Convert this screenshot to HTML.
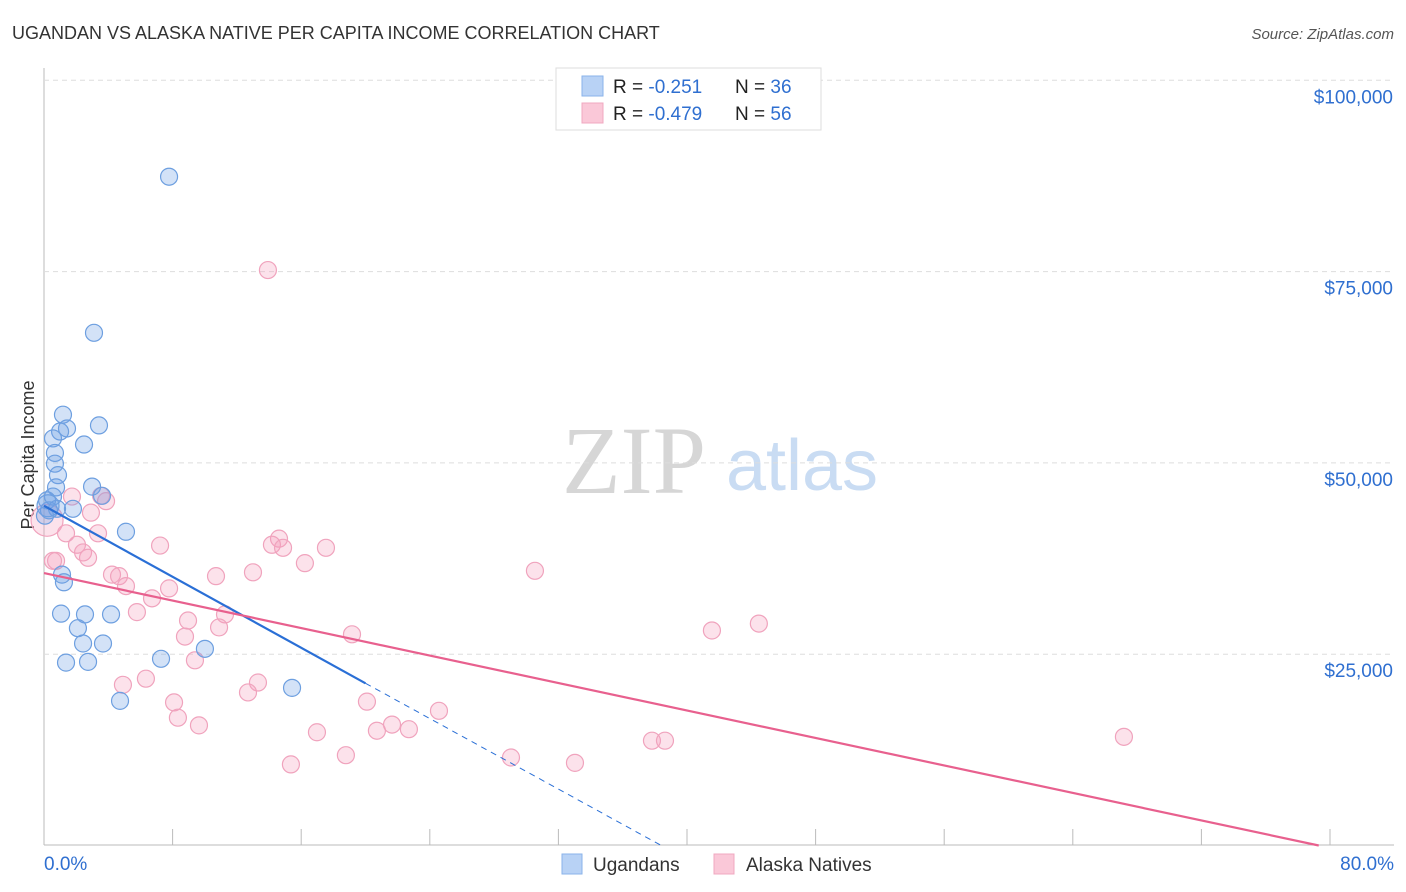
<!DOCTYPE html>
<html><head><meta charset="utf-8"><style>
body{margin:0;background:#fff;font-family:"Liberation Sans",sans-serif}
#c{position:relative;width:1406px;height:892px;overflow:hidden}
</style></head><body>
<div id="c">
<svg id="s" width="1406" height="892" xmlns="http://www.w3.org/2000/svg">
<text x="12" y="39" font-size="18" fill="#333">UGANDAN VS ALASKA NATIVE PER CAPITA INCOME CORRELATION CHART</text>
<text x="1394" y="39" font-size="15" fill="#555" font-style="italic" text-anchor="end">Source: ZipAtlas.com</text>
<text x="634" y="493" font-size="96" fill="#d6d6d6" font-family="Liberation Serif,serif" text-anchor="middle">ZIP</text>
<text x="802" y="490" font-size="72" fill="#c9dcf3" text-anchor="middle">atlas</text>
<text transform="translate(34,455) rotate(-90)" font-size="18" fill="#333" text-anchor="middle">Per Capita Income</text>
<g id="grid"></g><g id="pts"></g><g id="lines"></g>
<g>
<rect x="556" y="68" width="265" height="62" fill="#fff" stroke="#ddd"/>
<rect x="582" y="76" width="21" height="20" fill="#b8d2f5" stroke="#8ab3ea"/>
<rect x="582" y="103" width="21" height="20" fill="#fac8d8" stroke="#f0a8c0"/>
<text x="613" y="93" font-size="19" fill="#222">R = <tspan fill="#2f6fd0"> -0.251</tspan><tspan x="735">N = </tspan><tspan fill="#2f6fd0">36</tspan></text>
<text x="613" y="120" font-size="19" fill="#222">R = <tspan fill="#2f6fd0">-0.479</tspan><tspan x="735">N = </tspan><tspan fill="#2f6fd0">56</tspan></text>
</g>
<g>
<rect x="562" y="854" width="20" height="20" fill="#b8d2f5" stroke="#8ab3ea"/>
<text x="593" y="871" font-size="19" fill="#333">Ugandans</text>
<rect x="714" y="854" width="20" height="20" fill="#fac8d8" stroke="#f0a8c0"/>
<text x="746" y="871" font-size="19" fill="#333">Alaska Natives</text>
</g>
</svg></div>
<script>
const xTicks=[0,8,16,24,32,40,48,56,64,72,80];
const yTicks=[25,50,75,100];
const yTickLabels=["$25,000","$50,000","$75,000","$100,000"];
const ugX=[7.78,3.11,1.18,1.43,1.0,3.42,0.56,2.49,0.68,0.68,0.87,0.75,2.99,0.56,3.61,0.19,0.31,0.81,1.80,0.06,5.10,1.12,1.24,1.06,2.55,4.17,2.11,2.43,3.67,1.37,2.74,7.28,10.01,15.43,4.73,0.25];
const ugY=[87.4,67.0,56.3,54.5,54.1,54.9,53.2,52.4,51.3,49.9,48.4,46.8,46.9,45.6,45.7,45.1,43.8,44.0,44.0,43.1,41.0,35.4,34.4,30.3,30.2,30.2,28.4,26.4,26.4,23.9,24.0,24.4,25.7,20.6,18.9,44.4];
const akX=[13.93,0.19,3.55,1.74,3.86,2.92,3.36,1.37,2.05,2.43,7.22,0.75,2.74,4.23,4.67,5.10,10.70,13.0,7.78,6.72,5.78,8.96,11.26,10.89,8.77,14.62,14.18,14.87,17.54,16.23,30.54,19.16,41.55,44.47,9.39,4.91,6.34,13.31,12.69,8.09,20.09,8.33,9.64,21.65,20.71,22.70,24.57,16.98,18.78,15.36,29.05,33.03,37.82,38.63,67.18,0.56];
const akY=[75.2,42.5,45.7,45.6,45.0,43.5,40.8,40.8,39.3,38.3,39.2,37.2,37.6,35.4,35.2,33.9,35.2,35.7,33.6,32.3,30.5,29.4,30.2,28.5,27.3,40.1,39.3,38.9,38.9,36.9,35.9,27.6,28.1,29.0,24.2,21.0,21.8,21.3,20.0,18.7,18.8,16.7,15.7,15.8,15.0,15.2,17.6,14.8,11.8,10.6,11.5,10.8,13.7,13.7,14.2,37.2];
// trend line endpoints (percent, $k)
const ugTrend=[[0,44.4],[20,21.2],[38.4,0]];
const akTrend=[[0,35.6],[79.3,0]];
const NS="http://www.w3.org/2000/svg";
const sx=v=>44+v/80*1286, sy=v=>845.5-v/25*191.3;
function mk(t,a,p){const e=document.createElementNS(NS,t);for(const k in a)e.setAttribute(k,a[k]);p.appendChild(e);return e;}
const grid=document.getElementById('grid');
const ax=mk('line',{x1:44,y1:68,x2:44,y2:845,stroke:'#bbb'},grid);


const bx=mk('line',{x1:44,y1:845,x2:1394,y2:845,stroke:'#bbb'},grid);


yTicks.forEach((t,i)=>{
 const g=mk('line',{x1:44,x2:1394,y1:sy(t),y2:sy(t),stroke:'#ddd','stroke-dasharray':'5,4'},grid);
 
 
 const l=mk('text',{x:1393,y:sy(t)+23,'font-size':19,fill:'#2f6fd0','text-anchor':'end'},grid);
 l.textContent=yTickLabels[i];
 
 
});
xTicks.forEach(t=>{
 const k=mk('line',{x1:sx(t),x2:sx(t),y1:829,y2:845,stroke:'#bbb'},grid);
 
 
});
const xl=mk('text',{x:44,y:870,'font-size':19,fill:'#2f6fd0'},grid);xl.textContent='0.0%';


const xr=mk('text',{x:1394,y:870,'font-size':19,fill:'#2f6fd0','text-anchor':'end'},grid);xr.textContent='80.0%';


const pts=document.getElementById('pts');
akX.forEach((x,i)=>{
 const c=mk('circle',{cx:sx(x),cy:sy(akY[i]),r:i===1?16:8.5,fill:'rgba(244,160,190,0.3)',stroke:'#f0a3bd','stroke-width':1.2},pts);
 
 
});
ugX.forEach((x,i)=>{
 const c=mk('circle',{cx:sx(x),cy:sy(ugY[i]),r:i===35?11:8.5,fill:'rgba(110,160,230,0.3)',stroke:'#6d9fe0','stroke-width':1.2},pts);
 
 
});
const L=document.getElementById('lines');
const b1=mk('line',{x1:sx(ugTrend[0][0]),y1:sy(ugTrend[0][1]),x2:sx(ugTrend[1][0]),y2:sy(ugTrend[1][1]),stroke:'#2a6fd6','stroke-width':2.2},L);


const b2=mk('line',{x1:sx(ugTrend[1][0]),y1:sy(ugTrend[1][1]),x2:sx(ugTrend[2][0]),y2:sy(ugTrend[2][1]),stroke:'#2a6fd6','stroke-width':1,'stroke-dasharray':'6,5'},L);


const p1=mk('line',{x1:sx(akTrend[0][0]),y1:sy(akTrend[0][1]),x2:sx(akTrend[1][0]),y2:sy(akTrend[1][1]),stroke:'#e8608e','stroke-width':2.2},L);


</script>
</body></html>
